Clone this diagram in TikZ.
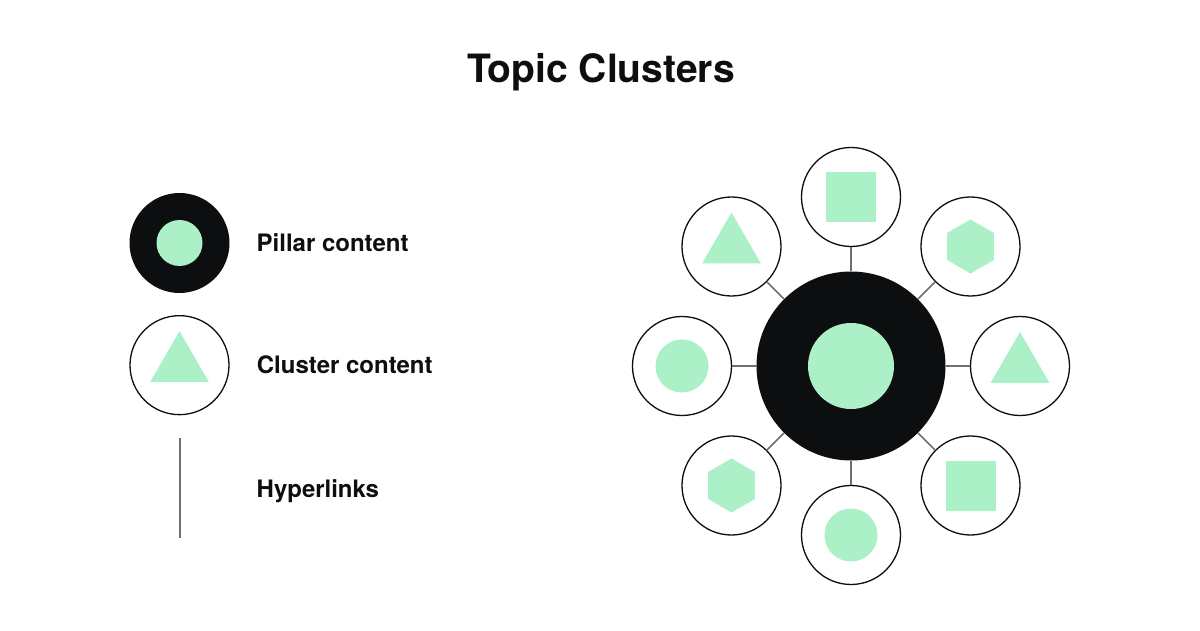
\documentclass[tikz,border=0pt]{standalone}
\usepackage{fontspec}
\setmainfont{TeX Gyre Heros}
\usepackage{xcolor}
\usetikzlibrary{positioning,shapes.geometric,calc}

\definecolor{mint}{HTML}{ACF0C7}
\definecolor{ink}{HTML}{0D0E10}
\definecolor{linkgray}{HTML}{6F6F6F}

\begin{document}
\begin{tikzpicture}[
  x=1pt, y=1pt,
  pillarnode/.style={circle, fill=ink, minimum size=189pt, inner sep=0pt, outer sep=0pt},
  clusternode/.style={circle, draw=ink, line width=1.3pt, fill=white,
                      minimum size=99pt, inner sep=0pt},
  dotshape/.style={circle, fill=mint, minimum size=53pt, inner sep=0pt},
  squareshape/.style={rectangle, fill=mint, minimum size=50pt, inner sep=0pt},
  hexshape/.style={regular polygon, regular polygon sides=6, shape border rotate=30,
                   fill=mint, minimum size=54pt, inner sep=0pt},
  triangleshape/.style={regular polygon, regular polygon sides=3,
                        fill=mint, minimum size=68pt, inner sep=0pt},
  link/.style={draw=linkgray, line width=1.6pt},
  titletext/.style={font=\fontsize{39}{45}\selectfont\bfseries, text=ink,
                    anchor=base, inner sep=0pt},
  legendtext/.style={font=\fontsize{24}{28}\selectfont\bfseries, text=ink,
                     text height=17.5pt, text depth=0pt, inner sep=0pt}
]

% Canvas
\path[use as bounding box, fill=white] (0,0) rectangle (1200,630);

% Title
\node[titletext] (title) at (601,547) {Topic Clusters};

% Legend
\node[pillarnode, minimum size=100pt] (legpillar) at (179.5,387) {};
\node[dotshape, minimum size=46pt] (legcore) at (legpillar) {};
\node[legendtext, right=27pt of legpillar] (legpillartext) {Pillar content};

\node[clusternode, below=22pt of legpillar] (legcluster) {};
\node[triangleshape] (legtriangle) at (legcluster) {};
\node[legendtext, right=27pt of legcluster] (legclustertext) {Cluster content};

\coordinate[below=23pt of legcluster] (linktop);
\coordinate[below=100pt of linktop] (linkbottom);
\coordinate[below=50pt of linktop] (linkmid);
\draw[link, line width=2pt] (linktop) -- (linkbottom);
\node[legendtext, right=77pt of linkmid] (leglinktext) {Hyperlinks};

% Pillar page
\node[pillarnode] (pillar) at (851,264) {};
\node[dotshape, minimum size=86pt] (pillarcore) at (pillar) {};

% Cluster pages
\node[clusternode] (cn)  at ($(pillar)+(90:169)$)   {};
\node[clusternode] (cne) at ($(pillar)+(45:169)$)   {};
\node[clusternode] (ce)  at ($(pillar)+(0:169)$)    {};
\node[clusternode] (cse) at ($(pillar)+(-45:169)$)  {};
\node[clusternode] (cs)  at ($(pillar)+(-90:169)$)  {};
\node[clusternode] (csw) at ($(pillar)+(-135:169)$) {};
\node[clusternode] (cw)  at ($(pillar)+(180:169)$)  {};
\node[clusternode] (cnw) at ($(pillar)+(135:169)$)  {};

% Shapes inside the cluster pages
\node[squareshape]   (cnshape)  at (cn)  {};
\node[hexshape]      (cneshape) at (cne) {};
\node[triangleshape] (ceshape)  at (ce)  {};
\node[squareshape]   (cseshape) at (cse) {};
\node[dotshape]      (csshape)  at (cs)  {};
\node[hexshape]      (cswshape) at (csw) {};
\node[dotshape]      (cwshape)  at (cw)  {};
\node[triangleshape] (cnwshape) at (cnw) {};

% Hyperlinks
\draw[link] (pillar) -- (cn);
\draw[link] (pillar) -- (cne);
\draw[link] (pillar) -- (ce);
\draw[link] (pillar) -- (cse);
\draw[link] (pillar) -- (cs);
\draw[link] (pillar) -- (csw);
\draw[link] (pillar) -- (cw);
\draw[link] (pillar) -- (cnw);

\end{tikzpicture}
\end{document}
